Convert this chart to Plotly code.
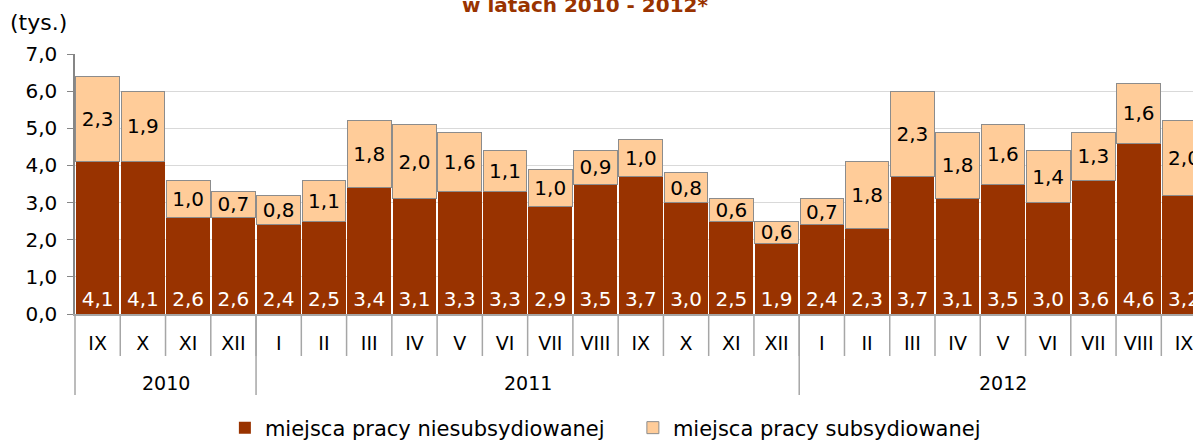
import plotly.graph_objects as go

months = ["IX", "X", "XI", "XII",
          "I", "II", "III", "IV", "V", "VI", "VII", "VIII", "IX", "X", "XI", "XII",
          "I", "II", "III", "IV", "V", "VI", "VII", "VIII", "IX"]
years = ["2010", "2011", "2012"]
year_counts = [4, 12, 9]
niesub = [4.1, 4.1, 2.6, 2.6,
          2.4, 2.5, 3.4, 3.1, 3.3, 3.3, 2.9, 3.5, 3.7, 3.0, 2.5, 1.9,
          2.4, 2.3, 3.7, 3.1, 3.5, 3.0, 3.6, 4.6, 3.2]
sub = [2.3, 1.9, 1.0, 0.7,
       0.8, 1.1, 1.8, 2.0, 1.6, 1.1, 1.0, 0.9, 1.0, 0.8, 0.6, 0.6,
       0.7, 1.8, 2.3, 1.8, 1.6, 1.4, 1.3, 1.6, 2.0]
y_ticks = [0, 1, 2, 3, 4, 5, 6, 7]
series_names = ["miejsca pracy niesubsydiowanej", "miejsca pracy subsydiowanej"]
title_text = "w latach 2010 - 2012*"
unit_text = "(tys.)"


def fmt(v):
    return f"{v:.1f}".replace(".", ",")


FONT = "Verdana, DejaVu Sans, sans-serif"
x = list(range(len(months)))

fig = go.Figure()
fig.add_bar(
    x=x, y=niesub, name=series_names[0],
    marker=dict(color="#993300", line=dict(width=0)),
    text=[fmt(v) for v in niesub], textposition="inside",
    insidetextanchor="start", textangle=0, constraintext="none",
    textfont=dict(color="white", size=20, family=FONT),
    hoverinfo="skip",
)
fig.add_bar(
    x=x, y=sub, name=series_names[1],
    marker=dict(color="#FFCC99", line=dict(color="#8C8C8C", width=1)),
    text=[fmt(v) for v in sub], textposition="inside",
    insidetextanchor="middle", textangle=0, constraintext="none",
    textfont=dict(color="black", size=20, family=FONT),
    hoverinfo="skip",
)

PLOT_H = 260.0
shapes = []
# month separators
for i in range(1, len(months) + 1):
    xb = i - 0.5
    shapes.append(dict(type="line", xref="x", yref="paper", x0=xb, x1=xb,
                       y0=0, y1=-42 / PLOT_H,
                       line=dict(color="#A6A6A6", width=1.5)))
# year dividers
bounds = [0]
for c in year_counts:
    bounds.append(bounds[-1] + c)
for b in bounds:
    if b == 0:
        shapes.append(dict(type="line", xref="paper", yref="paper", x0=0, x1=0,
                           y0=0, y1=-81 / PLOT_H,
                           line=dict(color="#A6A6A6", width=1.5)))
    else:
        shapes.append(dict(type="line", xref="x", yref="paper", x0=b - 0.5, x1=b - 0.5,
                           y0=0, y1=-81 / PLOT_H,
                           line=dict(color="#A6A6A6", width=1.5)))

annotations = []
pos = 0
for yr, c in zip(years, year_counts):
    annotations.append(dict(text=yr, x=pos + (c - 1) / 2, xref="x", yref="paper",
                            y=(314 - 383) / PLOT_H, yanchor="middle",
                            showarrow=False, font=dict(size=19, family=FONT, color="#000")))
    pos += c
annotations.append(dict(text=unit_text, xref="paper", yref="paper",
                        x=(8 - 75) / 1118, xanchor="left",
                        y=(314 - 23) / PLOT_H, yanchor="middle",
                        showarrow=False, font=dict(size=22, family=FONT, color="#000")))

fig.update_layout(
    width=1193, height=441,
    margin=dict(l=75, r=0, t=54, b=127, autoexpand=False),
    paper_bgcolor="white", plot_bgcolor="white",
    barmode="stack", bargap=0.035,
    font=dict(family=FONT, color="#000"),
    title=dict(text="<b>" + title_text + "</b>", x=585 / 1193, xanchor="center",
               xref="container", yref="container", y=1 - 5 / 441, yanchor="middle",
               font=dict(size=20, color="#993300", family=FONT)),
    xaxis=dict(range=[-0.5, 24.2], tickmode="array", tickvals=x, ticktext=months,
               showgrid=False, zeroline=False, showline=True, linecolor="#A6A6A6",
               linewidth=1.5, ticks="", tickfont=dict(size=19, family=FONT, color="#000"),
               ticklabelstandoff=11, ticklabeloverflow="allow", automargin=False),
    yaxis=dict(range=[0, 7], tickmode="array", tickvals=y_ticks,
               ticktext=[fmt(v) for v in y_ticks],
               showgrid=True, gridcolor="#D9D9D9", gridwidth=1.2, zeroline=False,
               showline=True, linecolor="#868686", linewidth=1.5,
               ticks="outside", ticklen=6, tickcolor="#868686",
               tickfont=dict(size=20, family=FONT, color="#000"), ticklabelstandoff=6,
               automargin=False),
    legend=dict(orientation="h", x=0.499, xanchor="center", y=(314 - 428) / PLOT_H,
                yanchor="middle", font=dict(size=21, family=FONT, color="#000"),
                traceorder="normal", itemwidth=30, entrywidth=363,
                entrywidthmode="pixels"),
    shapes=shapes, annotations=annotations,
    showlegend=True,
)

fig.write_html("out.html", config={"displayModeBar": False},
               post_script="document.body.style.margin='0px';document.body.style.padding='0px';")
